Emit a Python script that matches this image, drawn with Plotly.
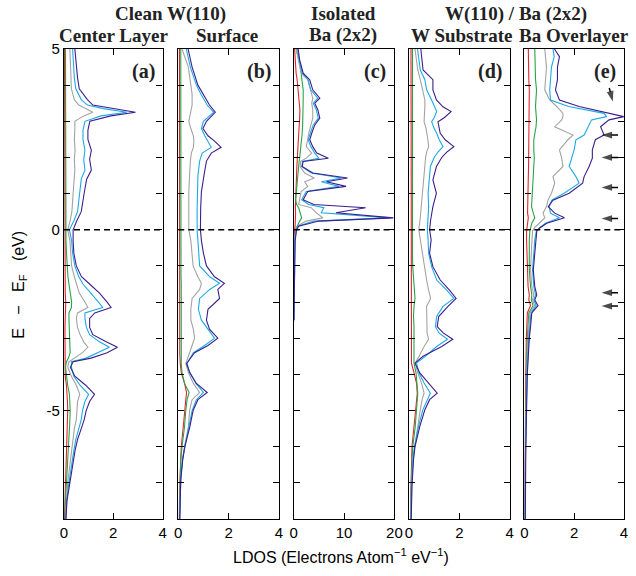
import plotly.graph_objects as go

# ---------------- data (E in eV, LDOS in electrons/atom/eV) ----------------
a_E = [5.0, 4.6, 4.2, 3.9, 3.6, 3.45, 3.35, 3.25, 3.15, 3.0, 2.75, 2.5, 2.2, 1.95, 1.65, 1.4, 1.1, 0.8, 0.5, 0.25, 0.0,
       -0.3, -0.65, -1.0, -1.3, -1.5, -1.75, -2.0, -2.15, -2.3, -2.45, -2.7, -2.9, -3.1, -3.25, -3.4, -3.55, -3.65, -3.8,
       -4.05, -4.3, -4.55, -4.75, -5.0, -5.25, -5.5, -5.8, -6.1, -6.5, -7.0, -7.5, -8.0]
a_purple = [0.44, 0.48, 0.55, 0.62, 0.95, 1.17, 2.0, 2.9, 1.9, 1.05, 0.97, 0.97, 1.11, 1.04, 1.11, 0.92, 0.84, 0.77, 0.7, 0.52, 0.37,
            0.37, 0.4, 0.5, 0.71, 1.04, 1.44, 1.75, 1.91, 1.25, 1.04, 1.04, 1.17, 1.71, 2.17, 1.75, 1.1, 0.37, 0.26,
            0.44, 0.88, 1.24, 1.04, 0.9, 0.82, 0.7, 0.55, 0.45, 0.35, 0.22, 0.12, 0.08]
a_cyan = [0.35, 0.38, 0.42, 0.48, 0.7, 0.95, 1.6, 2.55, 1.5, 0.85, 0.77, 0.77, 0.85, 0.8, 0.85, 0.7, 0.65, 0.6, 0.55, 0.4, 0.22,
          0.31, 0.35, 0.44, 0.6, 0.77, 1.1, 1.4, 1.57, 0.85, 0.85, 0.91, 1.04, 1.44, 1.84, 1.4, 0.9, 0.3, 0.3,
          0.4, 0.65, 1.0, 0.85, 0.75, 0.7, 0.6, 0.48, 0.4, 0.3, 0.2, 0.11, 0.07]
a_gray = [0.24, 0.26, 0.28, 0.3, 0.42, 0.6, 0.9, 1.17, 0.8, 0.44, 0.44, 0.42, 0.45, 0.42, 0.44, 0.4, 0.38, 0.35, 0.32, 0.25, 0.15,
          0.24, 0.27, 0.31, 0.42, 0.51, 0.62, 0.85, 0.97, 0.55, 0.5, 0.55, 0.65, 0.8, 0.97, 0.75, 0.45, 0.2, 0.15,
          0.3, 0.5, 0.64, 0.55, 0.52, 0.5, 0.42, 0.36, 0.3, 0.22, 0.15, 0.1, 0.06]
a_green = [0.06, 0.06, 0.06, 0.07, 0.07, 0.07, 0.07, 0.07, 0.07, 0.07, 0.07, 0.07, 0.07, 0.07, 0.07, 0.07, 0.07, 0.07, 0.07, 0.07, 0.07,
           0.08, 0.1, 0.12, 0.16, 0.2, 0.25, 0.31, 0.3, 0.2, 0.2, 0.22, 0.24, 0.25, 0.25, 0.25, 0.18, 0.1, 0.06,
           0.1, 0.15, 0.22, 0.24, 0.25, 0.24, 0.22, 0.18, 0.15, 0.12, 0.08, 0.06, 0.04]
a_red = [0.02, 0.02, 0.03, 0.05, 0.05, 0.05, 0.05, 0.05, 0.05, 0.04, 0.03, 0.03, 0.03, 0.03, 0.03, 0.03, 0.03, 0.02, 0.02, 0.02, 0.02,
         0.02, 0.02, 0.03, 0.04, 0.04, 0.05, 0.07, 0.06, 0.04, 0.04, 0.04, 0.04, 0.04, 0.04, 0.04, 0.03, 0.02, 0.02,
         0.05, 0.1, 0.13, 0.14, 0.15, 0.14, 0.13, 0.1, 0.08, 0.06, 0.04, 0.03, 0.02]

b_E = [5.0, 4.5, 4.0, 3.75, 3.45, 3.25, 3.0, 2.8, 2.6, 2.45, 2.28, 2.12, 1.9, 1.5, 1.05, 0.6, 0.0,
       -0.3, -0.65, -1.0, -1.3, -1.48, -1.65, -1.9, -2.2, -2.5, -2.75, -3.0, -3.2, -3.4, -3.7, -3.95, -4.25,
       -4.5, -4.7, -5.0, -5.45, -6.0, -6.35, -6.9, -7.5, -8.0]
b_purple = [0.39, 0.55, 0.78, 0.98, 1.24, 1.47, 1.12, 0.98, 1.18, 1.44, 1.70, 1.31, 1.12, 1.02, 0.92, 0.89, 0.88,
            0.92, 1.0, 1.12, 1.44, 1.83, 1.57, 1.64, 1.18, 1.12, 1.24, 1.57, 1.18, 0.65, 0.33, 0.46, 0.72,
            1.15, 0.78, 0.59, 0.46, 0.26, 0.18, 0.1, 0.07, 0.06]
b_cyan = [0.32, 0.48, 0.72, 0.9, 1.15, 1.41, 1.0, 0.92, 1.05, 1.18, 1.31, 0.95, 0.85, 0.78, 0.76, 0.75, 0.75,
          0.78, 0.82, 0.85, 1.25, 1.64, 1.25, 0.85, 0.8, 0.92, 1.18, 1.44, 1.05, 0.6, 0.35, 0.45, 0.7,
          1.0, 0.72, 0.55, 0.42, 0.25, 0.17, 0.1, 0.07, 0.06]
b_gray = [0.15, 0.4, 0.5, 0.55, 0.55, 0.5, 0.42, 0.5, 0.6, 0.62, 0.6, 0.52, 0.48, 0.45, 0.42, 0.42, 0.42,
          0.5, 0.55, 0.59, 0.78, 0.92, 0.85, 0.55, 0.5, 0.5, 0.6, 0.65, 0.55, 0.45, 0.3, 0.4, 0.6,
          0.85, 0.55, 0.45, 0.4, 0.25, 0.17, 0.1, 0.07, 0.05]
b_green = [0.1, 0.1, 0.09, 0.09, 0.08, 0.08, 0.08, 0.08, 0.08, 0.08, 0.08, 0.08, 0.08, 0.08, 0.08, 0.08, 0.08,
           0.1, 0.1, 0.11, 0.11, 0.12, 0.12, 0.12, 0.12, 0.12, 0.12, 0.13, 0.13, 0.12, 0.12, 0.15, 0.25,
           0.43, 0.35, 0.3, 0.25, 0.15, 0.1, 0.08, 0.06, 0.05]
b_red = [0.05, 0.05, 0.05, 0.05, 0.05, 0.05, 0.05, 0.05, 0.05, 0.05, 0.05, 0.05, 0.05, 0.05, 0.05, 0.05, 0.05,
         0.06, 0.06, 0.06, 0.06, 0.06, 0.06, 0.06, 0.06, 0.06, 0.06, 0.06, 0.06, 0.06, 0.08, 0.12, 0.25,
         0.33, 0.3, 0.25, 0.2, 0.12, 0.09, 0.07, 0.05, 0.04]

c_E = [5.0, 4.7, 4.33, 4.15, 3.87, 3.64, 3.5, 3.32, 3.09, 2.9, 2.67, 2.49, 2.3, 2.12, 1.98, 1.89, 1.75, 1.57,
       1.43, 1.33, 1.2, 1.06, 0.83, 0.7, 0.61, 0.47, 0.33, 0.24, 0.1, 0.0, -0.3, -1.0, -2.0, -2.5]
c_purple = [0.9, 1.2, 1.9, 3.2, 3.8, 5.2, 4.2, 4.8, 5.2, 4.2, 3.6, 3.2, 3.8, 4.6, 6.9, 1.9, 1.7, 3.8,
            10.7, 6.5, 10.4, 2.8, 1.9, 4.0, 14.3, 8.4, 19.8, 5.0, 1.0, 0.6, 0.3, 0.2, 0.1, 0.05]
c_cyan = [0.8, 1.1, 1.7, 2.9, 3.4, 4.8, 3.9, 4.5, 4.9, 3.9, 3.3, 2.9, 3.4, 4.2, 5.0, 1.8, 1.6, 3.5,
          9.5, 5.5, 9.0, 2.5, 1.6, 3.0, 6.0, 5.5, 19.0, 4.0, 0.8, 0.5, 0.3, 0.2, 0.1, 0.05]
c_gray = [0.5, 0.9, 1.5, 2.8, 3.4, 3.8, 3.6, 3.8, 3.8, 3.4, 3.0, 2.8, 2.5, 3.6, 2.5, 1.4, 1.3, 2.2,
          4.1, 2.2, 2.8, 1.5, 1.2, 1.0, 3.5, 4.5, 5.8, 2.5, 0.7, 0.4, 0.2, 0.15, 0.08, 0.04]
c_green = [0.5, 1.1, 1.5, 1.7, 1.9, 1.9, 1.9, 1.9, 1.9, 1.8, 1.7, 1.6, 1.4, 1.3, 1.2, 1.1, 1.0, 1.0,
           0.9, 0.8, 0.6, 0.5, 0.4, 0.6, 1.0, 1.3, 1.6, 1.2, 0.8, 0.4, 0.2, 0.1, 0.05, 0.03]
c_red = [0.2, 0.3, 0.5, 0.7, 0.9, 1.1, 1.2, 1.25, 1.2, 1.1, 1.0, 0.95, 0.9, 0.8, 0.75, 0.7, 0.65, 0.6,
         0.55, 0.5, 0.45, 0.4, 0.35, 0.35, 0.35, 0.4, 0.4, 0.35, 0.3, 0.2, 0.1, 0.05, 0.03, 0.02]

d_E = [5.0, 4.42, 4.15, 3.87, 3.59, 3.4, 3.27, 3.1, 2.99, 2.8, 2.67, 2.49, 2.3, 2.15, 2.0, 1.75, 1.38, 1.01, 0.64, 0.27, 0.0,
       -0.28, -0.65, -1.02, -1.39, -1.67, -1.9, -2.12, -2.4, -2.68, -2.86, -3.03, -3.23, -3.5, -3.69, -3.96, -4.24,
       -4.52, -4.7, -4.98, -5.44, -6.0, -6.36, -7.1, -8.0]
d_purple = [0.47, 0.56, 0.95, 0.95, 1.09, 1.35, 1.67, 1.4, 1.15, 1.2, 1.24, 1.44, 1.78, 1.5, 1.3, 1.09, 0.95, 1.09, 0.95, 0.86, 0.82,
            0.88, 0.82, 0.95, 1.24, 1.61, 1.87, 1.55, 1.18, 1.12, 1.37, 1.74, 1.3, 0.56, 0.24, 0.43, 0.76,
            1.12, 0.82, 0.63, 0.43, 0.24, 0.18, 0.12, 0.09]
d_cyan = [0.34, 0.45, 0.63, 0.7, 0.9, 1.0, 1.1, 1.0, 0.9, 1.0, 1.1, 1.2, 1.35, 1.15, 1.0, 0.85, 0.82, 0.76, 0.78, 0.75, 0.73,
          0.76, 0.78, 0.9, 1.1, 1.5, 1.78, 1.35, 1.1, 1.05, 1.2, 1.53, 1.1, 0.65, 0.3, 0.4, 0.6,
          0.85, 0.72, 0.55, 0.38, 0.22, 0.16, 0.11, 0.08]
d_gray = [0.24, 0.35, 0.45, 0.55, 0.63, 0.63, 0.62, 0.62, 0.6, 0.68, 0.72, 0.75, 0.78, 0.7, 0.66, 0.63, 0.56, 0.52, 0.48, 0.44, 0.39,
          0.45, 0.52, 0.6, 0.7, 0.78, 0.86, 0.7, 0.7, 0.7, 0.72, 0.78, 0.6, 0.4, 0.25, 0.35, 0.5,
          0.6, 0.52, 0.45, 0.35, 0.2, 0.15, 0.1, 0.07]
d_green = [0.14, 0.14, 0.14, 0.14, 0.14, 0.14, 0.14, 0.14, 0.14, 0.14, 0.14, 0.14, 0.14, 0.14, 0.14, 0.14, 0.13, 0.13, 0.13, 0.12, 0.12,
           0.13, 0.14, 0.15, 0.18, 0.22, 0.24, 0.2, 0.18, 0.2, 0.2, 0.22, 0.22, 0.22, 0.2, 0.28, 0.32,
           0.35, 0.33, 0.3, 0.25, 0.15, 0.12, 0.09, 0.07]
d_red = [0.08, 0.08, 0.08, 0.08, 0.08, 0.08, 0.08, 0.08, 0.08, 0.08, 0.08, 0.08, 0.08, 0.08, 0.08, 0.08, 0.08, 0.08, 0.08, 0.08, 0.08,
         0.08, 0.08, 0.09, 0.09, 0.1, 0.1, 0.1, 0.1, 0.1, 0.1, 0.1, 0.1, 0.1, 0.1, 0.2, 0.3,
         0.33, 0.3, 0.28, 0.2, 0.12, 0.1, 0.08, 0.06]

e_E = [5.0, 4.79, 4.5, 4.15, 3.87, 3.59, 3.41, 3.22, 3.13, 3.04, 2.85, 2.62, 2.49, 2.21, 1.98, 1.75, 1.47, 1.29, 1.01, 0.82,
       0.64, 0.46, 0.33, 0.18, 0.05, -0.04, -0.28, -0.65, -1.11, -1.57, -1.8, -1.94, -2.1, -2.3, -2.68, -3.0,
       -4.0, -5.0, -6.0, -7.0, -8.0]
e_purple = [1.21, 1.41, 1.33, 1.33, 1.25, 1.41, 2.2, 3.39, 3.99, 3.4, 3.06, 3.2, 2.85, 2.73, 2.73, 2.6, 2.4, 2.34, 1.8, 1.15,
            0.96, 1.22, 1.61, 0.9, 0.62, 0.5, 0.46, 0.42, 0.36, 0.42, 0.5, 0.42, 0.55, 0.3, 0.25, 0.2,
            0.12, 0.08, 0.06, 0.05, 0.04]
e_cyan = [1.15, 1.2, 1.09, 1.05, 1.02, 1.05, 1.78, 3.2, 3.3, 2.7, 2.55, 2.4, 2.07, 2.0, 1.9, 1.8, 2.07, 2.2, 1.6, 1.1,
          1.0, 1.05, 1.41, 0.85, 0.6, 0.48, 0.42, 0.38, 0.33, 0.38, 0.45, 0.38, 0.48, 0.27, 0.22, 0.18,
          0.11, 0.07, 0.05, 0.04, 0.03]
e_gray = [0.82, 0.85, 0.89, 0.85, 0.82, 1.02, 1.3, 1.55, 1.55, 1.5, 1.22, 1.95, 1.75, 1.41, 1.5, 1.55, 1.15, 1.22, 1.09, 0.95,
          0.89, 0.75, 0.82, 0.6, 0.4, 0.33, 0.3, 0.28, 0.25, 0.3, 0.38, 0.33, 0.42, 0.22, 0.18, 0.15,
          0.1, 0.07, 0.05, 0.04, 0.03]
e_green = [0.42, 0.42, 0.42, 0.45, 0.49, 0.47, 0.45, 0.47, 0.49, 0.49, 0.47, 0.4, 0.38, 0.38, 0.4, 0.38, 0.36, 0.36, 0.34, 0.3,
           0.29, 0.36, 0.42, 0.3, 0.25, 0.22, 0.2, 0.2, 0.2, 0.25, 0.3, 0.28, 0.35, 0.18, 0.15, 0.12,
           0.08, 0.06, 0.04, 0.03, 0.02]
e_red = [0.16, 0.16, 0.17, 0.18, 0.2, 0.2, 0.2, 0.2, 0.2, 0.2, 0.2, 0.19, 0.19, 0.18, 0.18, 0.17, 0.16, 0.15, 0.14, 0.13,
         0.12, 0.13, 0.16, 0.12, 0.1, 0.09, 0.09, 0.1, 0.12, 0.15, 0.2, 0.18, 0.25, 0.12, 0.1, 0.08,
         0.06, 0.04, 0.03, 0.02, 0.02]

panel_letters = ["(a)", "(b)", "(c)", "(d)", "(e)"]
x_max = [4, 4, 20, 4, 4]
x_ticks = [[0, 2, 4], [0, 2, 4], [0, 10, 20], [0, 2, 4], [0, 2, 4]]
y_major = [-5, 0, 5]
y_major_text = ["-5", "0", "5"]

# arrows in panel (e): (tip_x, tip_E, tail_x, tail_E)
arrows_e = [(3.55, 3.55, 3.41, 3.92),
            (3.1, 2.62, 3.76, 2.62),
            (3.1, 2.0, 3.76, 2.0),
            (3.1, 1.17, 3.76, 1.17),
            (3.1, 0.31, 3.76, 0.31),
            (3.1, -1.74, 3.76, -1.74),
            (3.1, -2.11, 3.76, -2.11)]

# ---------------- figure ----------------
colors = {"red": "#E5232B", "green": "#27A347", "gray": "#A3A3A3", "cyan": "#1CA9E6", "purple": "#3A1F8E"}
panels = [
    (a_E, a_red, a_green, a_gray, a_cyan, a_purple),
    (b_E, b_red, b_green, b_gray, b_cyan, b_purple),
    (c_E, c_red, c_green, c_gray, c_cyan, c_purple),
    (d_E, d_red, d_green, d_gray, d_cyan, d_purple),
    (e_E, e_red, e_green, e_gray, e_cyan, e_purple),
]
domains = [(0.0, 0.176), (0.204, 0.384), (0.410, 0.590), (0.616, 0.796), (0.822, 1.0)]
tick_font = dict(family="Liberation Sans, Arial, sans-serif", size=15, color="black")

fig = go.Figure()
for i, (E, r, g, gr, cy, pu) in enumerate(panels):
    n = "" if i == 0 else str(i + 1)
    for vals, cname in [(r, "red"), (g, "green"), (gr, "gray"), (cy, "cyan"), (pu, "purple")]:
        fig.add_trace(go.Scatter(x=vals, y=E, mode="lines", xaxis="x" + n, yaxis="y" + n,
                                 line=dict(color=colors[cname], width=1.1), showlegend=False,
                                 hoverinfo="skip"))
    axis_common = dict(showline=True, linecolor="black", linewidth=1.4, mirror="allticks",
                       ticks="inside", ticklen=6, tickwidth=1.3, tickcolor="black",
                       showgrid=False, zeroline=False, tickfont=tick_font)
    fig.layout["xaxis" + n] = dict(domain=list(domains[i]), range=[0, x_max[i]], anchor="y" + n,
                                   tickvals=x_ticks[i], ticktext=[str(t) for t in x_ticks[i]], **axis_common)
    fig.layout["yaxis" + n] = dict(domain=[0, 1], range=[-8, 5], anchor="x" + n,
                                   tickvals=y_major, ticktext=y_major_text,
                                   minor=dict(dtick=1, tick0=0, ticks="inside", ticklen=6, tickwidth=1.3,
                                              tickcolor="black", showgrid=False),
                                   showticklabels=(i == 0), **axis_common)
    fig.add_shape(type="line", xref=("x" + n) + " domain", x0=0, x1=1, yref="y" + n, y0=0, y1=0,
                  line=dict(color="black", width=1.4, dash="6px,4px"))
    fig.add_annotation(text="<b>" + panel_letters[i] + "</b>", xref=("x" + n) + " domain", yref=("y" + n) + " domain",
                       x=0.94, y=0.98, xanchor="right", yanchor="top", showarrow=False,
                       font=dict(family="Liberation Serif, Times New Roman, serif", size=20, color="#222"))

# arrows drawn as line + arrow-head marker
for tx, ty, ax, ay in arrows_e:
    fig.add_trace(go.Scatter(x=[ax, tx], y=[ay, ty], mode="lines+markers", xaxis="x5", yaxis="y5",
                             line=dict(color="black", width=1.5),
                             marker=dict(symbol=["circle", "arrow"], size=[0, 11], angleref="previous",
                                         color="black", line=dict(width=0)),
                             showlegend=False, hoverinfo="skip", cliponaxis=False))

title_font = dict(family="Liberation Serif, Times New Roman, serif", size=19, color="#222")
titles = [("Clean W(110)", 172, 14), ("Center Layer", 114, 35), ("Surface", 229, 35),
          ("Isolated", 347, 14), ("Ba (2x2)", 347, 35), ("W(110) / Ba (2x2)", 522, 14),
          ("W Substrate", 468, 35), ("Ba Overlayer", 581, 35)]
W, H, L, R, T, B = 636, 576, 64, 4, 49, 57
for txt, px, py in titles:
    fig.add_annotation(text="<b>" + txt + "</b>", xref="paper", yref="paper",
                       x=(px - L) / (W - L - R), y=(H - py - B) / (H - T - B),
                       xanchor="center", yanchor="middle", showarrow=False, font=title_font)

fig.add_annotation(text="LDOS (Electrons Atom<sup>\u22121</sup> eV<sup>\u22121</sup>)", xref="paper", yref="paper",
                   x=(345 - L) / (W - L - R), y=(H - 556 - B) / (H - T - B), xanchor="center", yanchor="middle",
                   showarrow=False, font=dict(family="Liberation Sans, Arial, sans-serif", size=16, color="black"))
nb = "\u00a0"
fig.add_annotation(text="E" + nb * 3 + "\u2212" + nb * 3 + "E<sub>F</sub>" + nb * 3 + "(eV)",
                   xref="paper", yref="paper", textangle=-90,
                   x=(18 - L) / (W - L - R), y=(H - 285 - B) / (H - T - B), xanchor="center", yanchor="middle",
                   showarrow=False, font=dict(family="Liberation Sans, Arial, sans-serif", size=16, color="black"))

fig.update_layout(width=W, height=H, margin=dict(l=L, r=R, t=T, b=B),
                  paper_bgcolor="white", plot_bgcolor="white", showlegend=False)

fig.write_html("out.html")
